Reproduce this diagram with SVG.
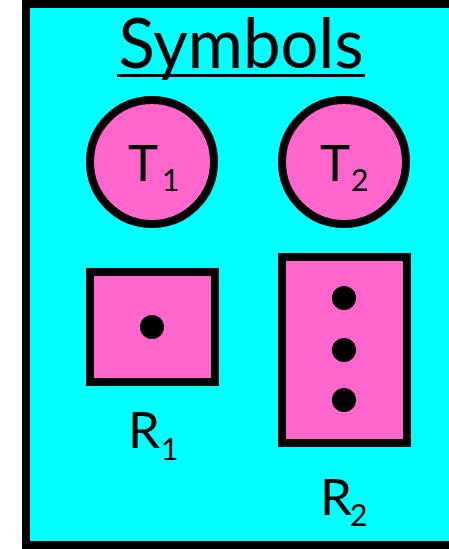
<svg xmlns="http://www.w3.org/2000/svg" width="449" height="549" viewBox="0 0 449 549">
<style>
.frame{fill:#00FFFF;stroke:#000;stroke-width:8}
.node{fill:#FF66CC;stroke:#000;stroke-width:8}
.dot{fill:#000}
.lbl{font-family:"Lato","Liberation Sans",sans-serif;fill:#000}
.big{font-size:51px}
.sub{font-size:30px}
</style>
<rect x="0" y="0" width="449" height="549" fill="#fff"/>
<rect class="frame" x="26" y="4" width="440" height="541"/>
<g id="title">
<text class="lbl" x="241" y="68" font-size="70" text-anchor="middle" textLength="245" lengthAdjust="spacingAndGlyphs">Symbols</text>
<rect x="117" y="74" width="248" height="3" fill="#000"/>
</g>
<g id="T1">
<circle class="node" cx="152" cy="162" r="62"/>
<text class="lbl big" x="128" y="181">T</text>
<text class="lbl sub" x="162" y="191">1</text>
</g>
<g id="T2">
<circle class="node" cx="344" cy="162" r="62"/>
<text class="lbl big" x="320" y="181">T</text>
<text class="lbl sub" x="351" y="191">2</text>
</g>
<g id="R1">
<rect class="node" x="90" y="272" width="125" height="110"/>
<circle class="dot" cx="152" cy="327" r="12"/>
<text class="lbl big" x="128" y="448">R</text>
<text class="lbl sub" x="161" y="460">1</text>
</g>
<g id="R2">
<rect class="node" x="282" y="257" width="125" height="186"/>
<circle class="dot" cx="344" cy="298" r="12"/>
<circle class="dot" cx="344" cy="350" r="12"/>
<circle class="dot" cx="344" cy="400" r="12"/>
<text class="lbl big" x="320" y="515">R</text>
<text class="lbl sub" x="350" y="526">2</text>
</g>
<g id="connectors"></g>
</svg>
